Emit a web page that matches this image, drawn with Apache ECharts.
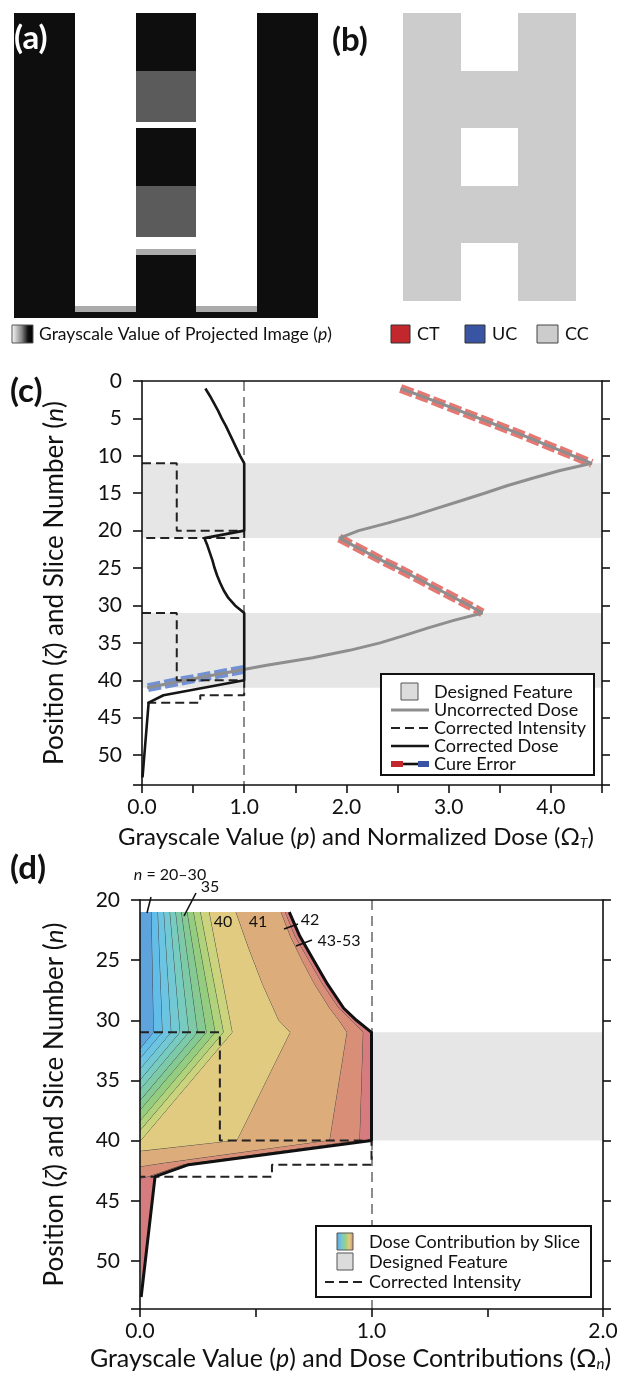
<!DOCTYPE html>
<html>
<head>
<meta charset="utf-8">
<script src="https://cdn.jsdelivr.net/npm/echarts@6.0.0/dist/echarts.min.js"></script>
<style>
  html, body { margin: 0; padding: 0; background: #fff; }
  #main { width: 637px; height: 1375px; }
</style>
</head>
<body>
<div id="main"></div>
<script>
const FONT = 'Lato, "Noto Sans", sans-serif'

// ---- (a) projected image: runs of [firstRow, lastRow, grayscale p] per column
const aRowCount = 53
const outerColumnRuns = [[1, 53, 0]]
const innerColumnRuns = [[1, 51, 1], [52, 52, 0.57], [53, 53, 0]]
const centerColumnRuns = [[1, 10, 0], [11, 19, 0.34], [20, 20, 1], [21, 30, 0], [31, 39, 0.34], [40, 41, 1], [42, 42, 0.57], [43, 53, 0]]
const aColumns = [outerColumnRuns, innerColumnRuns, centerColumnRuns, innerColumnRuns, outerColumnRuns]

// ---- (b) cured part: runs of [firstRow, lastRow] that are CC (cured correctly)
const bRowCount = 50
const bSideRuns = [[1, 50]]
const bCenterRuns = [[11, 20], [31, 40]]
const bColumns = [bSideRuns, bCenterRuns, bSideRuns]
const cureClasses = ['CT', 'UC', 'CC']
const cureColors = ['#c1272d', '#3a54a4', '#cccccc']

// ---- (c) profiles, [p or dose, slice n]
const designedFeatureC = [[11, 21], [31, 41]]
const uncorrectedDose = [
    [2.53, 1], [2.73, 2], [2.92, 3], [3.11, 4], [3.30, 5], [3.49, 6], [3.68, 7], [3.86, 8], [4.04, 9], [4.22, 10], [4.40, 11],
    [4.08, 12], [3.82, 13], [3.57, 14], [3.35, 15], [3.12, 16], [2.89, 17], [2.66, 18], [2.40, 19], [2.12, 20], [1.93, 21],
    [2.07, 22], [2.21, 23], [2.35, 24], [2.50, 25], [2.64, 26], [2.78, 27], [2.92, 28], [3.06, 29], [3.20, 30], [3.33, 31],
    [3.05, 32], [2.80, 33], [2.57, 34], [2.33, 35], [2.03, 36], [1.67, 37], [1.22, 38], [0.82, 39], [0.42, 40], [0.05, 41],
]
const cureErrorOver1 = uncorrectedDose.slice(0, 11)
const cureErrorOver2 = uncorrectedDose.slice(20, 31)
const cureErrorUnder = [[1.0, 38.55], [0.82, 39], [0.42, 40], [0.05, 41]]
const correctedIntensityC1 = [[0, 11], [0.34, 11], [0.34, 20], [1, 20], [1, 21], [0, 21]]
const correctedIntensityC2 = [[0, 31], [0.34, 31], [0.34, 40], [1, 40], [1, 42], [0.57, 42], [0.57, 43], [0, 43]]
const correctedDoseC = [
    [0.62, 1], [0.665, 2], [0.705, 3], [0.745, 4], [0.78, 5], [0.82, 6], [0.855, 7], [0.89, 8], [0.925, 9], [0.96, 10], [1.0, 11],
    [1.0, 20], [0.61, 21], [0.64, 22], [0.665, 23], [0.69, 24], [0.71, 25], [0.735, 26], [0.765, 27], [0.80, 28], [0.845, 29], [0.91, 30], [1.0, 31],
    [1.0, 40], [0.21, 42], [0.065, 43], [0.005, 53],
]

// ---- (d) dose contributions by slice: right edge of each stacked band
const designedFeatureD = [[31, 40]]
const bandLabels = ['20–30', '31', '32', '33', '34', '35', '36', '37', '38', '39', '40', '41', '42', '43–53']
const bandColors = ['#5fa3dc', '#62bde9', '#6bc5e2', '#73c9d3', '#78cbbf', '#7dcaa8', '#85ca92', '#95cd80', '#afd27a', '#cbd47c', '#e0cb80', '#dcad7b', '#d98f77', '#d77c7e']
const axisEdge = [[0, 21], [0, 53]]
const bandEdges = [
    [[0.050, 21], [0.060, 31], [0, 32.4]],
    [[0.078, 21], [0.098, 31], [0, 33.2]],
    [[0.104, 21], [0.136, 31], [0, 34.1]],
    [[0.130, 21], [0.174, 31], [0, 35.0]],
    [[0.155, 21], [0.212, 31], [0, 35.8]],
    [[0.180, 21], [0.250, 31], [0, 36.7]],
    [[0.205, 21], [0.288, 31], [0, 37.5]],
    [[0.232, 21], [0.326, 31], [0, 38.4]],
    [[0.262, 21], [0.362, 31], [0, 39.2]],
    [[0.300, 21], [0.400, 31], [0, 40.1]],
    [[0.415, 21], [0.47, 24], [0.53, 27], [0.60, 30], [0.65, 31], [0.42, 40], [0, 40.9]],
    [[0.61, 21], [0.65, 23], [0.70, 25], [0.755, 27], [0.82, 29], [0.86, 30], [0.895, 31], [0.82, 40], [0.10, 41.9], [0, 42.2]],
    [[0.628, 21], [0.67, 23], [0.73, 25], [0.79, 27], [0.86, 29], [0.915, 30], [0.965, 31], [0.95, 40], [0.19, 42], [0.04, 43], [0, 43.2]],
]
const correctedDoseD = [
    [0.645, 21], [0.69, 23], [0.75, 25], [0.81, 27], [0.88, 29], [0.935, 30], [1.0, 31],
    [1.0, 40], [0.21, 42], [0.065, 43], [0.005, 53],
]
const correctedIntensityD = [[0, 31], [0.345, 31], [0.345, 40], [1, 40], [1, 42], [0.57, 42], [0.57, 43], [0, 43]]

// ---- run cells: [column, firstRowIndex, lastRowIndex, value]
const runsToCells = (columns, value) => {
    const cells = []
    columns.forEach((runs, col) => {
        runs.forEach((run) => {
            cells.push([col, run[0] - 1, run[1] - 1, value === undefined ? run[2] : value])
        })
    })
    return cells
}
const rowsOf = (count) => Array.from({ length: count }, (_, i) => String(i + 1))

const renderRun = (params, api) => {
    const top = api.coord([api.value(0), api.value(1)])
    const bottom = api.coord([api.value(0), api.value(2)])
    const size = api.size([1, 1])
    const x1 = Math.round(top[0] - size[0] / 2)
    const x2 = Math.round(top[0] + size[0] / 2)
    const y1 = Math.round(top[1] - size[1] / 2)
    const y2 = Math.round(bottom[1] + size[1] / 2)
    return {
        type: 'rect',
        shape: { x: x1, y: y1, width: x2 - x1, height: y2 - y1 },
        style: { fill: api.visual('color') },
    }
}

const chart = echarts.init(document.getElementById('main'))

const axisColor = '#111'
const labelStyle = { color: axisColor, fontFamily: FONT, fontSize: 21 }
const titleStyle = (size, padRight) => ({
    color: axisColor,
    fontFamily: FONT,
    fontSize: size,
    padding: [0, padRight || 0, 0, 0],
    rich: {
        i: { fontFamily: FONT, fontSize: size, fontStyle: 'italic', color: axisColor },
        s: { fontFamily: FONT, fontSize: Math.round(size * 0.6), fontStyle: 'italic', color: axisColor, padding: [Math.round(size * 0.45), 0, 0, 0] },
    },
})
const line = { show: true, onZero: false, lineStyle: { color: axisColor, width: 1.6 } }
const tick = (len) => ({ show: true, length: len, lineStyle: { color: axisColor, width: 1.6 } })

const valueX = (grid, max, name, gap, size, shift) => ({
    gridIndex: grid, type: 'value', min: 0, max: max, interval: 0.5, z: 10,
    axisLine: line, axisTick: tick(8), splitLine: { show: false },
    axisLabel: { ...labelStyle, margin: 12, formatter: (v) => (v % 1 === 0 ? v.toFixed(1) : '') },
    name: name, nameLocation: 'middle', nameGap: gap, nameTextStyle: titleStyle(size, shift),
})
const topX = (grid, max) => ({
    gridIndex: grid, type: 'value', position: 'top', min: 0, max: max, z: 10,
    axisLine: line, axisTick: { show: false }, axisLabel: { show: false }, splitLine: { show: false },
})
const valueY = (grid, min, name, gap) => ({
    gridIndex: grid, type: 'value', inverse: true, min: min, max: 54, interval: 5, z: 10,
    axisLine: line, axisTick: tick(9), splitLine: { show: false },
    axisLabel: { ...labelStyle, margin: 20, formatter: (v) => (v % 5 === 0 ? String(v) : '') },
    name: name, nameLocation: 'middle', nameGap: gap, nameTextStyle: titleStyle(26),
})
const rightY = (grid, min) => ({
    gridIndex: grid, type: 'value', position: 'right', inverse: true, min: min, max: 54, interval: 5, z: 10,
    axisLine: line, axisTick: tick(8), axisLabel: { show: false }, splitLine: { show: false },
})

const plotLine = (name, data, x, y, style, z) => ({
    name: name, type: 'line', xAxisIndex: x, yAxisIndex: y, data: data,
    showSymbol: false, symbol: 'none', silent: true, z: z || 3,
    lineStyle: style,
})

const featureMarks = (ranges, x, y) => ({
    type: 'line', xAxisIndex: x, yAxisIndex: y, data: [], silent: true, z: 1,
    markArea: {
        silent: true,
        itemStyle: { color: '#e6e6e6' },
        data: ranges.map((r) => [{ yAxis: r[0] }, { yAxis: r[1] }]),
    },
    markLine: {
        silent: true, symbol: ['none', 'none'], label: { show: false },
        lineStyle: { color: '#8c8c8c', width: 2, type: [10, 6] },
        data: [{ xAxis: 1 }],
    },
})

const bandSeries = {
    type: 'custom', xAxisIndex: 4, yAxisIndex: 4, z: 2, silent: true, clip: true,
    encode: { x: 0, y: 1 },
    data: bandLabels.map((label, i) => [0.5, 30, i]),
    renderItem: (params, api) => {
        const k = api.value(2)
        const edges = [axisEdge].concat(bandEdges, [correctedDoseD])
        const right = edges[k + 1]
        const left = edges[k]
        const pts = right.concat(left.slice().reverse()).map((p) => api.coord(p))
        const children = [{ type: 'polygon', shape: { points: pts }, style: { fill: bandColors[k] } }]
        if (k < bandColors.length - 1) {
            children.push({
                type: 'polyline',
                shape: { points: right.map((p) => api.coord(p)) },
                style: { stroke: '#2a2a2a', lineWidth: 0.8, fill: null },
            })
        }
        return { type: 'group', children: children }
    },
}

const redDash = { color: 'rgba(224,96,90,0.85)', width: 9, type: [13, 4], cap: 'butt' }
const blueDash = { color: 'rgba(100,135,210,0.9)', width: 9, type: [13, 4], cap: 'butt' }
const grayLine = { color: '#8e8e8e', width: 3 }
const blackDash = { color: '#222', width: 2, type: [9, 5] }
const blackLine = { color: '#151515', width: 2.6 }

const txt = (x, y, text, extra) => ({
    type: 'text', x: x, y: y, z: 100, silent: true,
    style: Object.assign({ text: text, fill: '#111', font: '17px ' + FONT, textVerticalAlign: 'middle' }, extra || {}),
})
const rect = (x, y, w, h, fill, stroke, lw) => ({
    type: 'rect', z: 100, silent: true, shape: { x: x, y: y, width: w, height: h },
    style: { fill: fill, stroke: stroke || '#444', lineWidth: lw || 1 },
})
const seg = (x1, y1, x2, y2, stroke, lw, dash) => ({
    type: 'line', z: 101, silent: true, shape: { x1: x1, y1: y1, x2: x2, y2: y2 },
    style: { stroke: stroke, lineWidth: lw, lineDash: dash || null },
})
const italic = (size) => ({ i: { fontStyle: 'italic', fontSize: size, fontFamily: FONT, fill: '#111' } })
const panelFont = 'bold 33px ' + FONT

const grayGrad = new echarts.graphic.LinearGradient(0, 0, 1, 0, [
    { offset: 0, color: '#ffffff' }, { offset: 0.45, color: '#8a8a8a' }, { offset: 0.75, color: '#111' }, { offset: 1, color: '#000' },
])
const rainbowGrad = new echarts.graphic.LinearGradient(0, 0, 1, 0, [
    { offset: 0, color: '#5fa3dc' }, { offset: 0.3, color: '#72c9d6' }, { offset: 0.55, color: '#9fd07d' },
    { offset: 0.75, color: '#e0cb80' }, { offset: 1, color: '#d98f77' },
])

const option = {
    animation: false,
    backgroundColor: '#fff',
    grid: [
        { left: 14, top: 13, width: 304, height: 305 },
        { left: 403, top: 13, width: 173, height: 288 },
        { left: 142, top: 381, width: 460, height: 404 },
        { left: 140, top: 900, width: 463, height: 409 },
    ],
    xAxis: [
        { gridIndex: 0, type: 'category', data: aColumns.map((c, i) => String(i)), show: false },
        { gridIndex: 1, type: 'category', data: bColumns.map((c, i) => String(i)), show: false },
        valueX(2, 4.5, 'Grayscale Value ({i|p}) and Normalized Dose (Ω{s|T})', 40, 24, 32),
        topX(2, 4.5),
        valueX(3, 2, 'Grayscale Value ({i|p}) and Dose Contributions (Ω{s|n})', 37, 25, 42),
        topX(3, 2),
    ],
    yAxis: [
        { gridIndex: 0, type: 'category', inverse: true, data: rowsOf(aRowCount), show: false },
        { gridIndex: 1, type: 'category', inverse: true, data: rowsOf(bRowCount), show: false },
        valueY(2, 0, 'Position ({i|ζ}) and Slice Number ({i|n})', 74),
        rightY(2, 0),
        valueY(3, 20, 'Position ({i|ζ}) and Slice Number ({i|n})', 72),
        rightY(3, 20),
    ],
    visualMap: [
        {
            type: 'piecewise', show: false, seriesIndex: 0, dimension: 3,
            pieces: [
                { lte: 0.05, color: '#0e0e0e' },
                { gt: 0.05, lte: 0.45, color: '#5b5b5b' },
                { gt: 0.45, lte: 0.8, color: '#ababab' },
                { gt: 0.8, color: '#ffffff' },
            ],
        },
        {
            type: 'piecewise', show: false, seriesIndex: 1, dimension: 3,
            pieces: cureClasses.map((c, i) => ({ value: i, label: c, color: cureColors[i] })),
        },
    ],
    series: [
        {
            name: 'Projected Image', type: 'custom', xAxisIndex: 0, yAxisIndex: 0, silent: true,
            encode: { x: 0, y: 1 }, data: runsToCells(aColumns), renderItem: renderRun,
        },
        {
            name: 'Cured Part', type: 'custom', xAxisIndex: 1, yAxisIndex: 1, silent: true,
            encode: { x: 0, y: 1 }, data: runsToCells(bColumns, cureClasses.indexOf('CC')), renderItem: renderRun,
        },
        featureMarks(designedFeatureC, 2, 2),
        plotLine('Cure Error CT 1', cureErrorOver1, 2, 2, redDash, 3),
        plotLine('Cure Error CT 2', cureErrorOver2, 2, 2, redDash, 3),
        plotLine('Cure Error UC', cureErrorUnder, 2, 2, blueDash, 3),
        plotLine('Uncorrected Dose', uncorrectedDose, 2, 2, grayLine, 4),
        plotLine('Corrected Intensity', correctedIntensityC1, 2, 2, blackDash, 5),
        plotLine('Corrected Intensity', correctedIntensityC2, 2, 2, blackDash, 5),
        plotLine('Corrected Dose', correctedDoseC, 2, 2, blackLine, 6),
        featureMarks(designedFeatureD, 4, 4),
        bandSeries,
        plotLine('Corrected Intensity', correctedIntensityD, 4, 4, blackDash, 5),
        plotLine('Corrected Dose', correctedDoseD, 4, 4, { color: '#111', width: 3 }, 6),
    ],
    graphic: [
        // panel letters
        txt(14, 38, '(a)', { fill: '#fff', font: panelFont }),
        txt(332, 40, '(b)', { font: panelFont }),
        txt(10, 391, '(c)', { font: panelFont }),
        txt(10, 868, '(d)', { font: panelFont }),

        // (a) legend
        rect(12, 325, 21, 18, grayGrad, '#555', 1),
        txt(39, 334, 'Grayscale Value of Projected Image ({i|p})', { font: '17.5px ' + FONT, rich: italic(17.5) }),

        // (b) legend
        rect(391, 325, 19, 18, cureColors[0], '#333', 1),
        txt(417, 334, cureClasses[0], { font: '18px ' + FONT }),
        rect(465, 325, 20, 18, cureColors[1], '#333', 1),
        txt(492, 334, cureClasses[1], { font: '18px ' + FONT }),
        rect(537, 325, 21, 18, cureColors[2], '#444', 1),
        txt(565, 334, cureClasses[2], { font: '18px ' + FONT }),

        // (c) legend
        rect(381, 674, 213, 101, '#fff', '#111', 2),
        rect(401, 683, 17, 17, '#dcdcdc', '#555', 1),
        txt(434, 692, 'Designed Feature', { font: '18px ' + FONT }),
        seg(391, 710, 429, 710, '#8e8e8e', 3),
        txt(434, 710, 'Uncorrected Dose', { font: '18px ' + FONT }),
        seg(391, 728, 429, 728, '#222', 2, [9, 5]),
        txt(434, 728, 'Corrected Intensity', { font: '18px ' + FONT }),
        seg(391, 746, 429, 746, '#151515', 2.6),
        txt(434, 746, 'Corrected Dose', { font: '18px ' + FONT }),
        seg(391, 764, 403, 764, '#c1272d', 6),
        seg(403, 764, 418, 764, '#111', 2.6),
        seg(418, 764, 429, 764, '#3a54a4', 6),
        txt(434, 764, 'Cure Error', { font: '18px ' + FONT }),

        // (d) slice annotations
        txt(170, 875, '{i|n} = ' + bandLabels[0], { font: '16px ' + FONT, textAlign: 'center', rich: italic(16) }),
        seg(151, 897, 147, 913, '#111', 1.6),
        txt(210, 887, bandLabels[5], { font: '16px ' + FONT, textAlign: 'center' }),
        seg(196, 893, 184, 916, '#111', 1.6),
        txt(223, 922, bandLabels[10], { font: '16px ' + FONT, textAlign: 'center' }),
        txt(258, 922, bandLabels[11], { font: '16px ' + FONT, textAlign: 'center' }),
        txt(310, 920, bandLabels[12], { font: '16px ' + FONT, textAlign: 'center' }),
        seg(284, 929, 298, 924, '#111', 1.6),
        txt(339, 941, bandLabels[13].replace('–', '-'), { font: '16px ' + FONT, textAlign: 'center' }),
        seg(296, 946, 312, 940, '#111', 1.6),

        // (d) legend
        rect(316, 1226, 275, 71, '#fff', '#111', 2),
        rect(337, 1233, 16, 17, rainbowGrad, '#555', 1),
        txt(369, 1242, 'Dose Contribution by Slice', { font: '18px ' + FONT }),
        rect(337, 1253, 16, 17, '#dcdcdc', '#555', 1),
        txt(369, 1262, 'Designed Feature', { font: '18px ' + FONT }),
        seg(325, 1282, 363, 1282, '#222', 2, [9, 5]),
        txt(369, 1282, 'Corrected Intensity', { font: '18px ' + FONT }),
    ],
}

chart.setOption(option)
</script>
</body>
</html>
